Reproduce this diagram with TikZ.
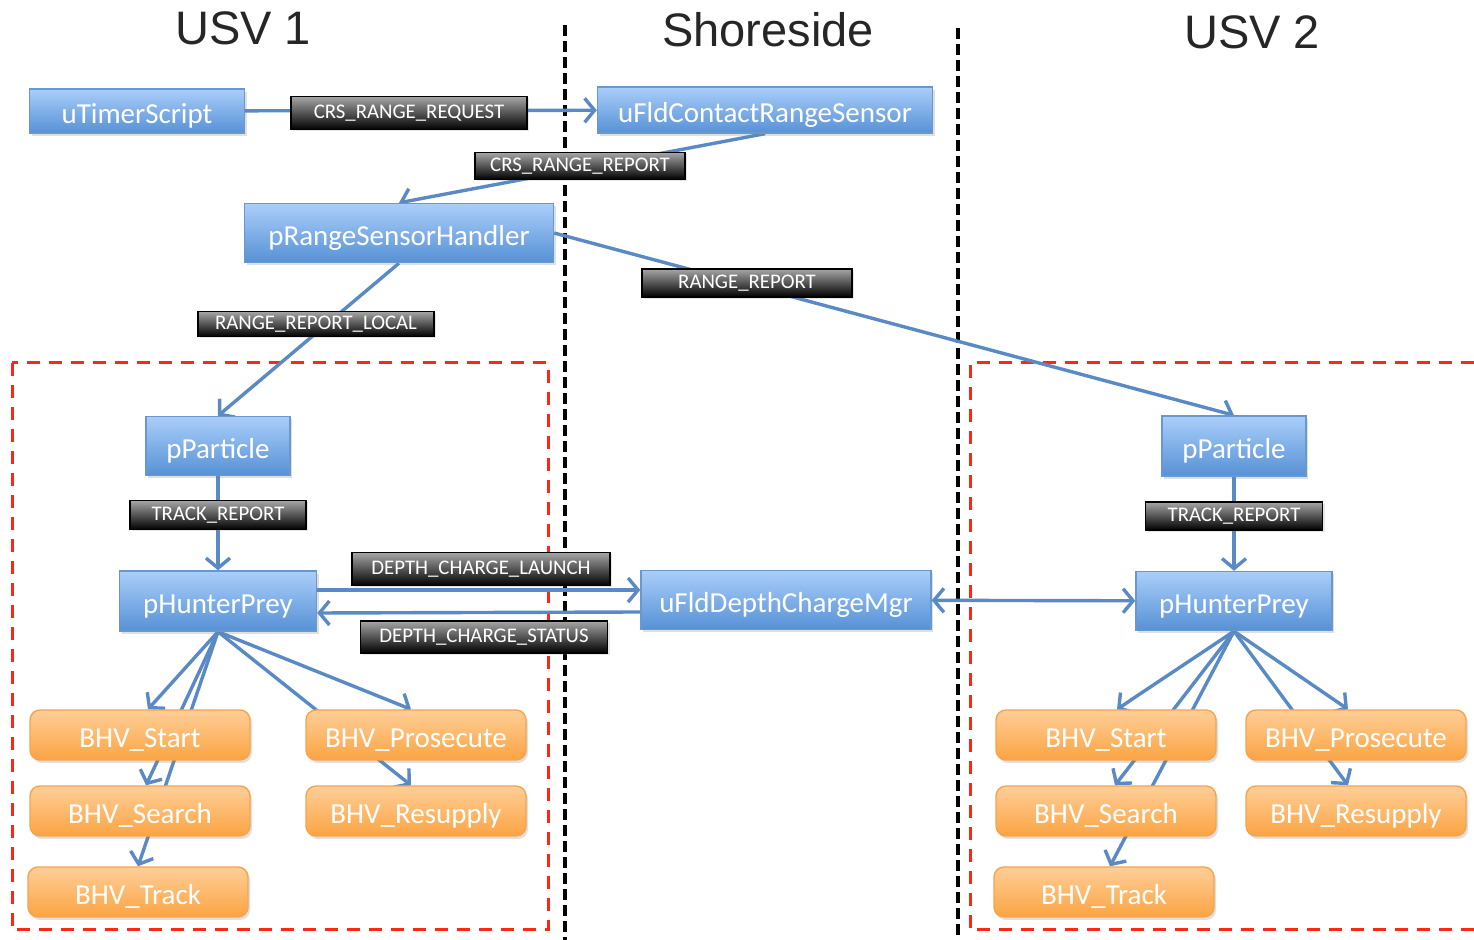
\documentclass[tikz,border=0pt]{standalone}
\usepackage{fontspec}
\setmainfont{Carlito}
\newfontfamily\sidefont{Liberation Sans}
\usetikzlibrary{arrows.meta,shadows}
\definecolor{appblue}{RGB}{86,145,214}
\definecolor{apptop}{RGB}{170,206,250}
\definecolor{appedge}{RGB}{104,152,206}
\definecolor{bhvorange}{RGB}{251,164,66}
\definecolor{bhvtop}{RGB}{255,206,152}
\definecolor{bhvedge}{RGB}{246,164,78}
\definecolor{link}{RGB}{90,138,198}
\definecolor{ink}{RGB}{38,38,38}
\definecolor{zone}{RGB}{250,40,20}
\pgfdeclarelayer{background}
\pgfsetlayers{background,main}

\begin{document}
\begin{tikzpicture}[x=0.5pt,y=-0.5pt,font=\fontsize{14.5}{16}\selectfont,
 app/.style={draw=appedge,line width=.7pt,top color=apptop,bottom color=appblue,text=white,inner sep=0pt,
  text height=13pt,text depth=0pt,
  drop shadow={opacity=.25,shadow xshift=1pt,shadow yshift=-1.5pt}},
 bhv/.style={draw=bhvedge,line width=.7pt,rounded corners=5pt,top color=bhvtop,bottom color=bhvorange,text=white,
  inner sep=0pt,minimum width=110pt,minimum height=25pt,text height=13pt,text depth=0pt,
  drop shadow={opacity=.25,shadow xshift=1pt,shadow yshift=-1.5pt}},
 msg/.style={draw=black,line width=.8pt,top color=black!35,bottom color=black,text=white,inner sep=0pt,
  font=\fontsize{10.4}{11}\selectfont,drop shadow={opacity=.2,shadow xshift=1pt,shadow yshift=-1pt}},
 wire/.style={draw=link,line width=1.7pt,-{Straight Barb[length=5pt,width=12pt]}},
 side/.style={font=\sidefont\fontsize{23.5}{26}\selectfont,text=ink},
 divider/.style={draw=black,line width=2pt,dash pattern=on 5.5pt off 2.5pt},
 zonebox/.style={draw=zone,line width=1.5pt,dash pattern=on 6.5pt off 4.5pt}]
\useasboundingbox (0,0) rectangle (1474,940);
% sides
\node[side] (usv1) at (243,28) {USV 1};
\node[side] (shore) at (768,30) {Shoreside};
\node[side] (usv2) at (1252,32) {USV 2};
% apps
\node[app,minimum width=107.5pt,minimum height=22pt] (timer) at (137,111) {uTimerScript};
\node[app,minimum width=167.5pt,minimum height=23pt] (sensor) at (765,110) {uFldContactRangeSensor};
\node[app,minimum width=154.5pt,minimum height=29.5pt] (handler) at (399,233) {pRangeSensorHandler};
\node[app,minimum width=72pt,minimum height=29.5pt] (particleL) at (218,446) {pParticle};
\node[app,minimum width=98.5pt,minimum height=30pt] (hunterL) at (218,601) {pHunterPrey};
\node[app,minimum width=145pt,minimum height=29.5pt] (depth) at (786,600) {uFldDepthChargeMgr};
\node[app,minimum width=72pt,minimum height=30pt] (particleR) at (1234,446) {pParticle};
\node[app,minimum width=98pt,minimum height=29.5pt] (hunterR) at (1234,601) {pHunterPrey};
% behaviors
\node[bhv] (startL) at (140,735) {BHV\_Start};
\node[bhv] (searchL) at (140,811) {BHV\_Search};
\node[bhv] (trackL) at (138,892) {BHV\_Track};
\node[bhv] (prosL) at (416,735) {BHV\_Prosecute};
\node[bhv] (supplyL) at (416,811) {BHV\_Resupply};
\node[bhv] (startR) at (1106,735) {BHV\_Start};
\node[bhv] (searchR) at (1106,811) {BHV\_Search};
\node[bhv] (trackR) at (1104,892) {BHV\_Track};
\node[bhv] (prosR) at (1356,735) {BHV\_Prosecute};
\node[bhv] (supplyR) at (1356,811) {BHV\_Resupply};
\begin{pgfonlayer}{background}
\draw[divider] (565,25)--(565,940);
\draw[divider] (958,28)--(958,940);
\draw[zonebox] (12,363) rectangle (548,930);
\draw[zonebox] (1474,363)--(970,363)--(970,930)--(1474,930);
\draw[wire] (timer)--(sensor);
\draw[wire] (sensor.south)--(handler.north);
\draw[wire] (handler.east)--(particleR.north);
\draw[wire] (handler.south)--(particleL.north);
\draw[wire] (particleL)--(hunterL);
\draw[wire] (particleR)--(hunterR);
\draw[wire] ([yshift=5.5pt]hunterL.east)--([yshift=5pt]depth.west);
\draw[wire] ([yshift=-6pt]depth.west)--([yshift=-6pt]hunterL.east);
\draw[wire,{Straight Barb[length=5pt,width=12pt]}-{Straight Barb[length=5pt,width=12pt]}] (depth)--(hunterR);
% fan out to behaviors
\draw[wire] (hunterL.south)--([xshift=4pt]startL.north);
\draw[wire] (hunterL.south)--([xshift=3pt]searchL.north);
\draw[wire] (hunterL.south)--(trackL.north);
\draw[wire] (hunterL.south)--([xshift=-2.5pt]prosL.north);
\draw[wire] (hunterL.south)--([xshift=-2.5pt]supplyL.north);
\draw[wire] (hunterR.south)--([xshift=5.5pt]startR.north);
\draw[wire] (hunterR.south)--([xshift=4.5pt]searchR.north);
\draw[wire] (hunterR.south)--([xshift=3pt]trackR.north);
\draw[wire] (hunterR.south)--([xshift=-4pt]prosR.north);
\draw[wire] (hunterR.south)--([xshift=-4pt]supplyR.north);
\end{pgfonlayer}
% messages
\node[msg,minimum width=118pt,minimum height=16.5pt] (request) at (409,113) {CRS\_RANGE\_REQUEST};
\node[msg,minimum width=105pt,minimum height=13.5pt] (report) at (580,166) {CRS\_RANGE\_REPORT};
\node[msg,minimum width=105pt,minimum height=14pt] (range) at (747,283) {RANGE\_REPORT};
\node[msg,minimum width=118pt,minimum height=12.5pt] (local) at (316,324) {RANGE\_REPORT\_LOCAL};
\node[msg,minimum width=88pt,minimum height=14.5pt] (trackmsgL) at (218,515) {TRACK\_REPORT};
\node[msg,minimum width=88.5pt,minimum height=14pt] (trackmsgR) at (1234,516) {TRACK\_REPORT};
\node[msg,minimum width=129pt,minimum height=16.5pt] (launch) at (481,569) {DEPTH\_CHARGE\_LAUNCH};
\node[msg,minimum width=123.5pt,minimum height=16pt] (status) at (484,637) {DEPTH\_CHARGE\_STATUS};
\end{tikzpicture}
\end{document}
